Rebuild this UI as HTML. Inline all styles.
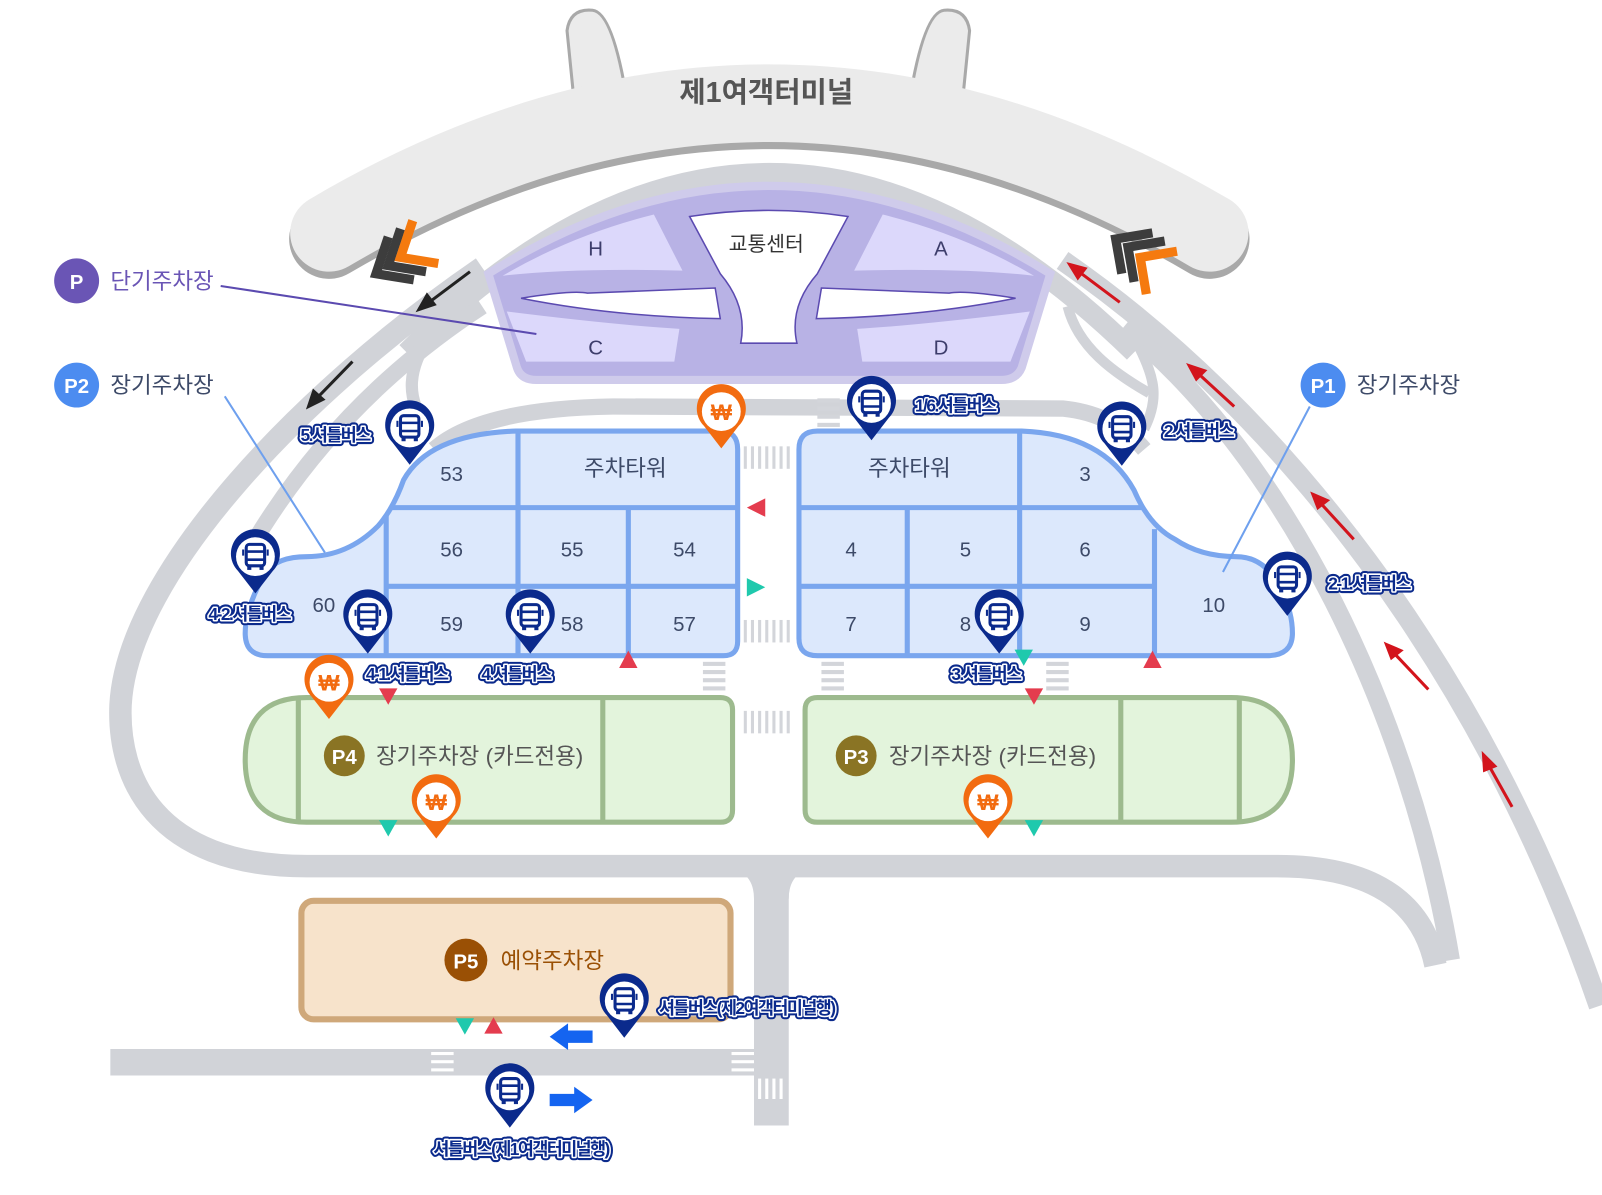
<!DOCTYPE html>
<html><head><meta charset="utf-8"><style>
html,body{margin:0;padding:0;background:#fff;width:1602px;height:1195px;overflow:hidden}
svg{display:block}
text{font-family:"Liberation Sans","Noto Sans CJK KR",sans-serif}
.num{font-size:20px;fill:#3d4a68;text-anchor:middle}
.bo{font-size:17px;font-weight:bold;fill:#0b2a8c;stroke:#0b2a8c;stroke-width:7;stroke-linejoin:round;letter-spacing:-1.5px}
.bl{font-size:17px;font-weight:bold;fill:#0b2a8c;stroke:#fff;stroke-width:3;stroke-linejoin:round;paint-order:stroke;letter-spacing:-1.5px}
</style></head><body>
<svg width="1602" height="1195" viewBox="0 0 1568 1170" preserveAspectRatio="none" xmlns="http://www.w3.org/2000/svg">
<defs>
<g id="bus">
<path d="M -17,14 A 24 24 0 1 1 17,14 L 0,36 Z" fill="#0b2a8c"/>
<circle r="19" fill="#fff"/>
<rect x="-9" y="-12" width="18" height="21" rx="3" fill="none" stroke="#0b2a8c" stroke-width="3"/>
<line x1="-9" y1="-5" x2="9" y2="-5" stroke="#0b2a8c" stroke-width="2.5"/>
<line x1="-9" y1="3" x2="9" y2="3" stroke="#0b2a8c" stroke-width="2.5"/>
<rect x="-8" y="9" width="4" height="4" fill="#0b2a8c"/><rect x="4" y="9" width="4" height="4" fill="#0b2a8c"/>
<rect x="-13" y="-7" width="2" height="6" fill="#0b2a8c"/><rect x="11" y="-7" width="2" height="6" fill="#0b2a8c"/>
</g>
<g id="won">
<path d="M -17,14 A 24 24 0 1 1 17,14 L 0,36 Z" fill="#f26b10"/>
<circle r="19" fill="#fff"/>
</g>
<g id="labels">
<text x="328" y="432" text-anchor="middle">5.셔틀버스</text>
<text x="244" y="607" text-anchor="middle">4-2.셔틀버스</text>
<text x="398" y="666" text-anchor="middle">4-1.셔틀버스</text>
<text x="505" y="666" text-anchor="middle">4.셔틀버스</text>
<text x="935" y="403" text-anchor="middle">1/6.셔틀버스</text>
<text x="1173" y="428" text-anchor="middle">2.셔틀버스</text>
<text x="1340" y="577" text-anchor="middle">2-1.셔틀버스</text>
<text x="965" y="666" text-anchor="middle">3.셔틀버스</text>
<text x="645" y="993">셔틀버스(제2여객터미널행)</text>
<text x="510" y="1131" text-anchor="middle">셔틀버스(제1여객터미널행)</text>
</g>
</defs>

<!-- roads -->
<g fill="none" stroke="#d1d3d8" stroke-linecap="butt">
<path d="M 1405,945 Q 1385,848 1250,848 L 300,848 C 150,848 115,760 118,690 C 125,560 300,380 472,262" stroke-width="22"/>
<path d="M 398,345 Q 752,-6 1110,345" stroke-width="20"/>
<path d="M 472,300 C 380,360 300,440 240,545" stroke-width="16"/>
<path d="M 425,440 Q 470,400 600,398 L 1040,400 Q 1090,405 1120,440" stroke-width="16"/>
<path d="M 420,330 C 400,360 395,390 420,420" stroke-width="12"/>
<path d="M 1040,255 C 1250,400 1450,650 1565,985" stroke-width="20"/>
<path d="M 1100,320 C 1260,450 1380,700 1420,940" stroke-width="18"/>
<path d="M 1045,300 C 1055,340 1090,365 1125,385" stroke-width="10"/>
<path d="M 1115,340 C 1130,370 1135,390 1120,420" stroke-width="10"/>
<path d="M 755,855 L 755,1102" stroke-width="34"/>
<path d="M 108,1040 L 740,1040" stroke-width="26"/>
</g>
<path d="M 700,848 Q 738,848 738,880 L 772,880 Q 772,848 810,848 Z" fill="#d1d3d8"/>

<!-- crosswalks -->
<g fill="#d3d5da">
<g id="vcw"><rect x="728" y="437" width="3" height="22"/><rect x="735" y="437" width="3" height="22"/><rect x="742" y="437" width="3" height="22"/><rect x="749" y="437" width="3" height="22"/><rect x="756" y="437" width="3" height="22"/><rect x="763" y="437" width="3" height="22"/><rect x="770" y="437" width="3" height="22"/></g>
<use href="#vcw" y="170"/><use href="#vcw" y="259"/>
<g id="hcw"><rect x="688" y="648" width="22" height="4"/><rect x="688" y="656" width="22" height="4"/><rect x="688" y="664" width="22" height="4"/><rect x="688" y="672" width="22" height="4"/></g>
<use href="#hcw" x="116"/><use href="#hcw" x="336"/><use href="#hcw" x="112" y="-258"/>
</g>
<g fill="#fff">
<rect x="422" y="1030" width="22" height="3"/><rect x="422" y="1038" width="22" height="3"/><rect x="422" y="1046" width="22" height="3"/>
<rect x="716" y="1030" width="22" height="3"/><rect x="716" y="1038" width="22" height="3"/><rect x="716" y="1046" width="22" height="3"/>
<rect x="742" y="1056" width="3" height="20"/><rect x="749" y="1056" width="3" height="20"/><rect x="756" y="1056" width="3" height="20"/><rect x="763" y="1056" width="3" height="20"/>
</g>

<!-- terminal -->
<path d="M 322,228 Q 752,-26 1184,228" fill="none" stroke="#a9a9a9" stroke-width="78" stroke-linecap="round" transform="translate(0,6)"/>
<path d="M 562,100 L 555,30 Q 558,8 580,10 Q 600,12 614,100 Z" fill="#ebebeb" stroke="#a9a9a9" stroke-width="3"/>
<path d="M 942,100 L 949,30 Q 946,8 924,10 Q 904,12 890,100 Z" fill="#ebebeb" stroke="#a9a9a9" stroke-width="3"/>
<path d="M 322,228 Q 752,-26 1184,228" fill="none" stroke="#ebebeb" stroke-width="76" stroke-linecap="round"/>
<text x="750" y="100" font-size="28" font-weight="bold" fill="#555" text-anchor="middle">제1여객터미널</text>

<!-- chevrons -->
<g fill="none" stroke-width="9" stroke-linejoin="miter">
<path d="M 380,232 L 368,268 L 405,274" stroke="#3d3d3d"/>
<path d="M 392,224 L 380,260 L 417,266" stroke="#3d3d3d"/>
<path d="M 404,216 L 392,252 L 429,258" stroke="#f57a0f"/>
<path d="M 1128,228 L 1092,234 L 1098,268" stroke="#3d3d3d"/>
<path d="M 1140,236 L 1104,242 L 1110,276" stroke="#3d3d3d"/>
<path d="M 1152,246 L 1116,252 L 1122,288" stroke="#f57a0f"/>
</g>

<!-- transport center -->
<path d="M 478,268 Q 752,96 1028,268 L 1000,360 Q 995,372 980,372 L 525,372 Q 510,372 506,360 Z" fill="#b8b2e5" stroke="#cfcbeb" stroke-width="8"/>
<g fill="#dcd8fb">
<path d="M 492,270 Q 560,230 640,210 L 668,265 Q 560,262 492,270 Z"/>
<path d="M 1012,270 Q 944,230 864,210 L 836,265 Q 944,262 1012,270 Z"/>
<path d="M 496,305 Q 600,318 665,322 L 660,354 L 515,354 Z"/>
<path d="M 1008,305 Q 904,318 839,322 L 844,354 L 989,354 Z"/>
</g>
<g fill="#fff" stroke="#5b4ab0" stroke-width="1.5">
<path d="M 510,292 Q 560,284 575,287 L 700,282 L 705,312 Q 600,310 510,292 Z"/>
<path d="M 994,292 Q 944,284 929,287 L 804,282 L 799,312 Q 904,310 994,292 Z"/>
<path d="M 675,212 Q 752,200 830,212 L 800,268 Q 772,300 780,336 L 725,336 Q 732,300 705,268 Z"/>
</g>
<text x="750" y="246" font-size="20" fill="#333" text-anchor="middle">교통센터</text>
<g font-size="20" fill="#3d3d6b" text-anchor="middle"><text x="583" y="250">H</text><text x="921" y="250">A</text><text x="583" y="347">C</text><text x="921" y="347">D</text></g>

<!-- blue blocks -->
<g fill="#dce8fc" stroke="#7aa6ee" stroke-width="5">
<path d="M 505,422 L 705,422 Q 722,422 722,440 L 722,628 Q 722,642 708,642 L 262,642 Q 240,642 240,620 Q 240,595 260,560 Q 272,545 300,545 Q 340,545 370,515 Q 385,498 395,470 Q 420,425 505,422 Z"/>
<path d="M 800,422 L 1000,422 Q 1080,425 1110,480 Q 1125,515 1150,528 Q 1175,545 1210,545 Q 1240,545 1255,580 Q 1265,600 1265,620 Q 1265,642 1240,642 L 800,642 Q 782,642 782,625 L 782,440 Q 782,422 800,422 Z"/>
</g>
<g stroke="#7aa6ee" stroke-width="5">
<line x1="507" y1="422" x2="507" y2="642"/><line x1="378" y1="505" x2="378" y2="642"/><line x1="615" y1="497" x2="615" y2="642"/>
<line x1="384" y1="497" x2="722" y2="497"/><line x1="378" y1="574" x2="722" y2="574"/>
<line x1="998" y1="422" x2="998" y2="642"/><line x1="888" y1="497" x2="888" y2="642"/><line x1="1130" y1="518" x2="1130" y2="642"/>
<line x1="782" y1="497" x2="1118" y2="497"/><line x1="782" y1="574" x2="1130" y2="574"/>
</g>
<text x="612" y="466" font-size="22" fill="#3d4a68" text-anchor="middle">주차타워</text>
<text x="890" y="466" font-size="22" fill="#3d4a68" text-anchor="middle">주차타워</text>
<g class="num">
<text x="442" y="471">53</text><text x="442" y="545">56</text><text x="560" y="545">55</text><text x="670" y="545">54</text>
<text x="317" y="599">60</text><text x="442" y="618">59</text><text x="560" y="618">58</text><text x="670" y="618">57</text>
<text x="1062" y="471">3</text><text x="833" y="545">4</text><text x="945" y="545">5</text><text x="1062" y="545">6</text>
<text x="833" y="618">7</text><text x="945" y="618">8</text><text x="1062" y="618">9</text><text x="1188" y="599">10</text>
</g>

<!-- green blocks -->
<path d="M 300,683 L 705,683 Q 717,683 717,695 L 717,793 Q 717,805 705,805 L 300,805 Q 240,805 240,744 Q 240,683 300,683 Z" fill="#e3f4dc" stroke="#9dba8e" stroke-width="5"/>
<path d="M 800,683 L 1205,683 Q 1265,683 1265,744 Q 1265,805 1205,805 L 800,805 Q 788,805 788,793 L 788,695 Q 788,683 800,683 Z" fill="#e3f4dc" stroke="#9dba8e" stroke-width="5"/>
<g stroke="#9dba8e" stroke-width="5"><line x1="292" y1="683" x2="292" y2="805"/><line x1="590" y1="683" x2="590" y2="805"/><line x1="1097" y1="683" x2="1097" y2="805"/><line x1="1213" y1="683" x2="1213" y2="805"/></g>
<circle cx="337" cy="740" r="20" fill="#8a7424"/><text x="337" y="748" font-size="20" font-weight="bold" fill="#fff" text-anchor="middle">P4</text>
<text x="368" y="748" font-size="22" fill="#555">장기주차장 (카드전용)</text>
<circle cx="838" cy="740" r="20" fill="#8a7424"/><text x="838" y="748" font-size="20" font-weight="bold" fill="#fff" text-anchor="middle">P3</text>
<text x="870" y="748" font-size="22" fill="#555">장기주차장 (카드전용)</text>

<!-- P5 -->
<rect x="295" y="882" width="420" height="116" rx="12" fill="#f7e3cb" stroke="#cfa87a" stroke-width="6"/>
<circle cx="456" cy="940" r="21" fill="#9a5005"/><text x="456" y="948" font-size="20" font-weight="bold" fill="#fff" text-anchor="middle">P5</text>
<text x="490" y="948" font-size="22" fill="#9a5005">예약주차장</text>

<!-- triangles -->
<g fill="#e43c4e">
<path d="M 731,497 L 749,488 L 749,506 Z"/><path d="M 615,637 L 606,654 L 624,654 Z"/><path d="M 371,674 L 389,674 L 380,690 Z"/>
<path d="M 1128,637 L 1119,654 L 1137,654 Z"/><path d="M 1003,674 L 1021,674 L 1012,690 Z"/><path d="M 483,996 L 474,1012 L 492,1012 Z"/>
</g>
<g fill="#1fc9ad">
<path d="M 749,575 L 731,566 L 731,584 Z"/><path d="M 371,803 L 389,803 L 380,819 Z"/><path d="M 993,636 L 1011,636 L 1002,652 Z"/>
<path d="M 1003,803 L 1021,803 L 1012,819 Z"/><path d="M 446,997 L 464,997 L 455,1013 Z"/>
</g>
<path d="M 538,1015 L 556,1002 L 556,1009 L 580,1009 L 580,1021 L 556,1021 L 556,1028 Z" fill="#1464f0"/>
<path d="M 580,1077 L 562,1064 L 562,1071 L 538,1071 L 538,1083 L 562,1083 L 562,1090 Z" fill="#1464f0"/>

<!-- road arrows -->
<g stroke="#d3141c" stroke-width="3" fill="#d3141c">
<line x1="1096" y1="296" x2="1056" y2="266"/><path d="M 1047,259 L 1062,263 L 1055,272 Z"/>
<line x1="1208" y1="398" x2="1172" y2="365"/><path d="M 1164,358 L 1179,363 L 1171,371 Z"/>
<line x1="1325" y1="528" x2="1292" y2="492"/><path d="M 1285,484 L 1299,490 L 1290,497 Z"/>
<line x1="1398" y1="675" x2="1364" y2="639"/><path d="M 1357,631 L 1371,637 L 1362,644 Z"/>
<line x1="1480" y1="790" x2="1457" y2="749"/><path d="M 1452,739 L 1463,750 L 1453,754 Z"/>
</g>
<g stroke="#222" stroke-width="3" fill="#222">
<line x1="460" y1="266" x2="420" y2="296"/><path d="M 410,303 L 418,289 L 425,298 Z"/>
<line x1="345" y1="354" x2="310" y2="390"/><path d="M 302,398 L 307,383 L 316,391 Z"/>
</g>

<!-- legend -->
<line x1="216" y1="280" x2="525" y2="327" stroke="#5b4ab0" stroke-width="2"/>
<line x1="220" y1="388" x2="318" y2="541" stroke="#6ea0ee" stroke-width="2"/>
<line x1="1282" y1="398" x2="1197" y2="560" stroke="#6ea0ee" stroke-width="2"/>
<circle cx="75" cy="275" r="22" fill="#6a55b5"/><text x="75" y="283" font-size="20" font-weight="bold" fill="#fff" text-anchor="middle">P</text>
<text x="108" y="283" font-size="22" fill="#6a55b5">단기주차장</text>
<circle cx="75" cy="377" r="22" fill="#4c8cf0"/><text x="75" y="385" font-size="20" font-weight="bold" fill="#fff" text-anchor="middle">P2</text>
<text x="108" y="385" font-size="22" fill="#3d4a68">장기주차장</text>
<circle cx="1295" cy="377" r="22" fill="#4c8cf0"/><text x="1295" y="385" font-size="20" font-weight="bold" fill="#fff" text-anchor="middle">P1</text>
<text x="1328" y="385" font-size="22" fill="#3d4a68">장기주차장</text>

<!-- pins -->
<use href="#bus" x="401" y="419"/><use href="#bus" x="250" y="545"/><use href="#bus" x="360" y="604"/><use href="#bus" x="519" y="604"/>
<use href="#bus" x="853" y="395"/><use href="#bus" x="1098" y="420"/><use href="#bus" x="1260" y="567"/><use href="#bus" x="978" y="604"/>
<use href="#bus" x="611" y="980"/><use href="#bus" x="499" y="1068"/>
<use href="#won" x="706" y="403"/><use href="#won" x="322" y="668"/><use href="#won" x="427" y="785"/><use href="#won" x="967" y="785"/>
<g font-size="22" font-weight="bold" fill="#f26b10" text-anchor="middle">
<text x="706" y="411">₩</text><text x="322" y="676">₩</text><text x="427" y="793">₩</text><text x="967" y="793">₩</text>
</g>
<use href="#labels" class="bo"/>
<use href="#labels" class="bl"/>
</svg>
</body></html>
